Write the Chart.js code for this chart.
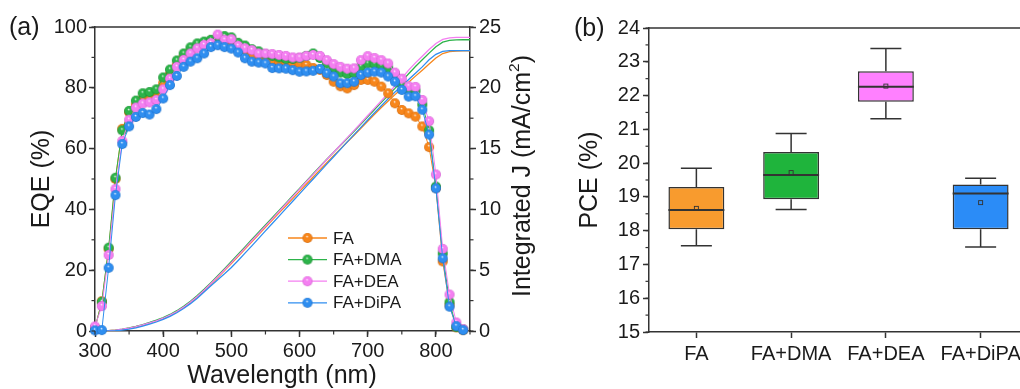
<!DOCTYPE html>
<html>
<head>
<meta charset="utf-8">
<script src="https://cdn.jsdelivr.net/npm/chart.js@4.4.1/dist/chart.umd.min.js"></script>
<style>
  html, body { margin: 0; padding: 0; background: #fff; width: 1020px; height: 389px; overflow: hidden; }
  #wrapA { position: absolute; left: 0; top: 0; }
  #wrapB { position: absolute; left: 560px; top: 0; }
</style>
</head>
<body>
<div id="wrapA"><canvas id="eqeChart" width="560" height="389"></canvas></div>
<div id="wrapB"><canvas id="pceChart" width="480" height="389"></canvas></div>
<script>
// ---- EQE spectra (%), one value every 10 nm ----
var eqeWavelength = [300, 310, 320, 330, 340, 350, 360, 370, 380, 390,
  400, 410, 420, 430, 440, 450, 460, 470, 480, 490,
  500, 510, 520, 530, 540, 550, 560, 570, 580, 590,
  600, 610, 620, 630, 640, 650, 660, 670, 680, 690,
  700, 710, 720, 730, 740, 750, 760, 770, 780, 790,
  800, 810, 820, 830, 840];

var eqeFA = [1.0, 9.8, 27.0, 50.0, 66.5, 72.0, 74.5, 76.5, 77.0, 78.0,
  81.5, 84.5, 87.5, 90.0, 92.0, 93.5, 94.5, 95.5, 96.0, 95.5,
  95.5, 93.5, 92.5, 91.5, 90.0, 89.2, 88.8, 88.6, 88.5, 88.3,
  88.0, 87.5, 86.5, 85.9, 84.2, 82.0, 80.5, 79.8, 80.9, 82.6,
  82.6, 82.0, 80.4, 78.2, 74.9, 72.7, 71.6, 70.5, 67.3, 60.5,
  47.0, 22.9, 8.5, 1.2, 0.3];

var eqeDMA = [1.0, 9.6, 27.4, 50.4, 66.0, 72.4, 75.8, 78.2, 78.6, 79.5,
  83.4, 86.0, 89.0, 91.3, 93.3, 94.6, 95.2, 95.8, 96.5, 97.0,
  96.6, 94.8, 93.9, 92.7, 92.0, 91.0, 90.5, 90.0, 89.5, 89.5,
  89.8, 90.5, 91.3, 89.8, 88.0, 86.5, 85.0, 84.5, 84.8, 87.0,
  88.0, 87.8, 87.2, 86.5, 84.5, 81.0, 79.0, 79.0, 74.5, 66.0,
  47.5, 25.5, 9.5, 1.3, 0.5];

var eqeDEA = [1.5, 8.2, 25.0, 46.7, 62.5, 69.5, 73.5, 74.8, 75.2, 76.0,
  79.5, 83.0, 86.9, 89.2, 91.3, 93.0, 94.1, 94.7, 97.5, 95.8,
  96.0, 93.8, 93.0, 92.4, 91.3, 91.3, 91.1, 90.8, 90.5, 90.0,
  90.0, 90.5, 90.8, 90.5, 89.1, 87.8, 86.9, 86.3, 86.4, 89.1,
  90.4, 89.8, 89.1, 88.0, 85.0, 83.0, 80.5, 80.3, 76.0, 69.0,
  51.5, 27.0, 12.0, 2.8, 0.6];

var eqeDiPA = [0.2, 0.3, 20.8, 44.7, 61.5, 67.3, 70.4, 71.7, 71.2, 73.0,
  76.5, 80.9, 83.9, 86.9, 88.6, 89.7, 91.3, 93.4, 94.0, 93.4,
  92.9, 91.6, 89.7, 88.6, 88.3, 88.0, 86.5, 86.4, 86.3, 85.8,
  85.3, 85.4, 85.6, 86.2, 84.8, 83.7, 81.5, 81.5, 82.0, 84.2,
  85.0, 85.3, 85.0, 83.7, 82.0, 79.3, 77.1, 77.2, 72.8, 64.6,
  46.9, 23.9, 8.0, 1.6, 0.3];

// ---- integrated current density (mA/cm2) ----
var jWavelength = [300, 310, 320, 330, 340, 350, 360, 370, 380, 390,
  400, 410, 420, 430, 440, 450, 460, 470, 480, 490,
  500, 510, 520, 530, 540, 550, 560, 570, 580, 590,
  600, 610, 620, 630, 640, 650, 660, 670, 680, 690,
  700, 710, 720, 730, 740, 750, 760, 770, 780, 790,
  800, 810, 820, 830, 840, 850];

var jFA = [0, 0.01, 0.03, 0.07, 0.14, 0.23, 0.35, 0.49, 0.65, 0.83,
  1.04, 1.29, 1.58, 1.93, 2.34, 2.8, 3.3, 3.84, 4.4, 4.97,
  5.55, 6.14, 6.74, 7.34, 7.94, 8.53, 9.12, 9.71, 10.3, 10.89,
  11.48, 12.07, 12.66, 13.25, 13.84, 14.42, 14.98, 15.54, 16.1, 16.67,
  17.25, 17.82, 18.38, 18.92, 19.44, 19.95, 20.46, 20.96, 21.45, 21.95,
  22.45, 22.82, 22.98, 23.02, 23.03, 23.03];

var jDMA = [0, 0.01, 0.03, 0.08, 0.16, 0.26, 0.38, 0.53, 0.7, 0.89,
  1.1, 1.36, 1.67, 2.03, 2.45, 2.92, 3.43, 3.98, 4.55, 5.13,
  5.72, 6.32, 6.92, 7.52, 8.12, 8.72, 9.32, 9.92, 10.52, 11.12,
  11.72, 12.32, 12.93, 13.53, 14.12, 14.7, 15.28, 15.85, 16.43, 17.02,
  17.62, 18.21, 18.8, 19.38, 19.95, 20.55, 21.15, 21.75, 22.3, 22.85,
  23.38, 23.75, 23.9, 23.94, 23.95, 23.95];

var jDEA = [0, 0.01, 0.03, 0.08, 0.15, 0.24, 0.36, 0.5, 0.66, 0.84,
  1.05, 1.3, 1.6, 1.96, 2.38, 2.84, 3.35, 3.9, 4.46, 5.04,
  5.62, 6.22, 6.82, 7.42, 8.02, 8.62, 9.22, 9.83, 10.44, 11.05,
  11.66, 12.27, 12.88, 13.49, 14.1, 14.7, 15.3, 15.9, 16.5, 17.1,
  17.72, 18.33, 18.94, 19.55, 20.15, 20.8, 21.45, 22.05, 22.6, 23.15,
  23.65, 23.98, 24.1, 24.14, 24.15, 24.15];

var jDiPA = [0, 0, 0, 0.02, 0.07, 0.15, 0.26, 0.4, 0.56, 0.74,
  0.95, 1.2, 1.5, 1.85, 2.25, 2.7, 3.2, 3.72, 4.22, 4.7,
  5.22, 5.8, 6.4, 7.0, 7.62, 8.23, 8.84, 9.45, 10.06, 10.67,
  11.28, 11.89, 12.5, 13.11, 13.72, 14.33, 14.94, 15.55, 16.15, 16.75,
  17.35, 17.95, 18.53, 19.1, 19.65, 20.15, 20.68, 21.2, 21.72, 22.3,
  22.75, 23.0, 23.05, 23.06, 23.06, 23.06];

var seriesNames = ['FA', 'FA+DMA', 'FA+DEA', 'FA+DiPA'];
var wavelengthTicks = [300, 400, 500, 600, 700, 800];

// ---- PCE statistics (%) ----
var pceGroups = ['FA', 'FA+DMA', 'FA+DEA', 'FA+DiPA'];
var pceMin    = [17.55, 18.63, 21.31, 17.52];
var pceQ1     = [18.04, 18.93, 21.82, 18.04];
var pceMedian = [18.61, 19.65, 22.26, 19.10];
var pceQ3     = [19.29, 20.33, 22.72, 19.37];
var pceMax    = [19.85, 20.88, 23.39, 19.55];
var pceMean   = [18.66, 19.72, 22.28, 18.83];

// colours
var lineColors = ['#f7861b', '#2db34a', '#f47ff1', '#2f8ef0'];
var darkColors = ['#cf6508', '#15892c', '#cf5ccc', '#186bc6'];
var boxColors  = ['#f89b2e', '#1fb43c', '#ff80ff', '#2b8cf7'];
var axisColor = '#333333';
var textColor = '#1a1a1a';
var fontFamily = "'Liberation Sans', Arial, sans-serif";

Chart.defaults.font.family = fontFamily;
Chart.defaults.color = textColor;

// shaded ball used as point marker
function makeBall(color, dark, r) {
  var c = document.createElement('canvas');
  var d = Math.ceil(r * 2 + 2);
  c.width = d; c.height = d;
  var g = c.getContext('2d');
  var cx = d / 2, cy = d / 2;
  var grad = g.createRadialGradient(cx - r * 0.1, cy - r * 0.35, 0, cx, cy, r);
  grad.addColorStop(0, '#ffffff');
  grad.addColorStop(0.28, color);
  grad.addColorStop(0.8, color);
  grad.addColorStop(1, dark);
  g.fillStyle = grad;
  g.beginPath(); g.arc(cx, cy, r, 0, Math.PI * 2); g.fill();
  return c;
}
var balls = lineColors.map(function (c, i) { return makeBall(c, darkColors[i], 5); });

function toPoints(xs, ys) {
  return xs.map(function (x, i) { return { x: x, y: ys[i] }; });
}

// text with optional superscript pieces, centred on (x, y)
function drawRich(ctx, parts, x, y, rot, size) {
  ctx.save();
  ctx.translate(x, y);
  ctx.rotate(rot);
  ctx.textBaseline = 'middle';
  ctx.textAlign = 'left';
  ctx.fillStyle = textColor;
  var total = 0;
  parts.forEach(function (p) {
    ctx.font = (p.sup ? size * 0.62 : size) + 'px ' + fontFamily;
    p.w = ctx.measureText(p.t).width;
    total += p.w;
  });
  var cx = -total / 2;
  parts.forEach(function (p) {
    ctx.font = (p.sup ? size * 0.62 : size) + 'px ' + fontFamily;
    ctx.fillText(p.t, cx, p.sup ? -size * 0.33 : 0);
    cx += p.w;
  });
  ctx.restore();
}

// frame, minor ticks, titles and legend
var panelDecor = {
  id: 'panelDecor',
  afterDraw: function (chart, args, o) {
    var ctx = chart.ctx, a = chart.chartArea;
    ctx.save();
    ctx.strokeStyle = axisColor;
    ctx.lineWidth = 1.5;
    ctx.beginPath();
    ctx.moveTo(a.left, a.top); ctx.lineTo(a.right, a.top);
    if (o.rightEdge) ctx.lineTo(a.right, a.bottom);
    ctx.stroke();

    ctx.lineWidth = 1.2;
    (o.minor || []).forEach(function (m) {
      var s = chart.scales[m.axis];
      for (var v = s.min; v <= s.max + 1e-9; v += m.step) {
        var p = s.getPixelForValue(v);
        ctx.beginPath();
        if (s.isHorizontal()) { ctx.moveTo(p, s.top); ctx.lineTo(p, s.top + 3.5); }
        else if (s.position === 'left') { ctx.moveTo(s.right, p); ctx.lineTo(s.right - 3.5, p); }
        else { ctx.moveTo(s.left, p); ctx.lineTo(s.left + 3.5, p); }
        ctx.stroke();
      }
    });

    (o.texts || []).forEach(function (t) {
      if (t.left) {
        ctx.font = t.size + 'px ' + fontFamily;
        ctx.fillStyle = textColor;
        ctx.textAlign = 'left';
        ctx.textBaseline = 'alphabetic';
        ctx.fillText(t.parts[0].t, t.x, t.y);
      } else {
        drawRich(ctx, t.parts, t.x, t.y, t.rot || 0, t.size);
      }
    });

    if (o.legend) {
      var L = o.legend;
      seriesNames.forEach(function (name, i) {
        var y = L.y + i * L.gap;
        ctx.strokeStyle = lineColors[i];
        ctx.lineWidth = 1.3;
        ctx.beginPath(); ctx.moveTo(L.x, y); ctx.lineTo(L.x + L.len, y); ctx.stroke();
        var b = balls[i];
        ctx.drawImage(b, L.x + L.len / 2 - b.width / 2, y - b.height / 2);
        ctx.font = L.size + 'px ' + fontFamily;
        ctx.fillStyle = textColor;
        ctx.textAlign = 'left';
        ctx.textBaseline = 'middle';
        ctx.fillText(name, L.x + L.len + 6, y + 1);
      });
    }
    ctx.restore();
  }
};

// whiskers, median and mean of each box
var boxWhiskers = {
  id: 'boxWhiskers',
  afterDatasetsDraw: function (chart) {
    var ctx = chart.ctx, ys = chart.scales.y;
    var bars = chart.getDatasetMeta(0).data;
    ctx.save();
    ctx.strokeStyle = axisColor;
    bars.forEach(function (bar, i) {
      var x = bar.x, half = bar.width / 2, cap = 15.5;
      var yMin = ys.getPixelForValue(pceMin[i]);
      var yQ1 = ys.getPixelForValue(pceQ1[i]);
      var yQ3 = ys.getPixelForValue(pceQ3[i]);
      var yMax = ys.getPixelForValue(pceMax[i]);
      var yMed = ys.getPixelForValue(pceMedian[i]);
      var yMean = ys.getPixelForValue(pceMean[i]);
      ctx.lineWidth = 1.5;
      ctx.beginPath();
      ctx.moveTo(x, yQ3); ctx.lineTo(x, yMax);
      ctx.moveTo(x - cap, yMax); ctx.lineTo(x + cap, yMax);
      ctx.moveTo(x, yQ1); ctx.lineTo(x, yMin);
      ctx.moveTo(x - cap, yMin); ctx.lineTo(x + cap, yMin);
      ctx.stroke();
      ctx.lineWidth = 2;
      ctx.beginPath();
      ctx.moveTo(x - half, yMed); ctx.lineTo(x + half, yMed);
      ctx.stroke();
      ctx.lineWidth = 0.9;
      ctx.strokeRect(x - 2, yMean - 2, 4, 4);
    });
    ctx.restore();
  }
};

var tickFont = { size: 20 };
function axisGrid() {
  return { drawOnChartArea: false, drawTicks: true, tickLength: 6, tickWidth: 1.5, tickColor: axisColor };
}
var axisBorder = { display: true, color: axisColor, width: 1.5 };

// ---------- (a) EQE + integrated J ----------
var eqeSets = [eqeFA, eqeDMA, eqeDEA, eqeDiPA];
var jSets = [jFA, jDMA, jDEA, jDiPA];
var datasets = [];
eqeSets.forEach(function (vals, i) {
  datasets.push({
    label: seriesNames[i],
    data: toPoints(eqeWavelength, vals),
    yAxisID: 'y',
    borderColor: lineColors[i],
    borderWidth: 1,
    pointStyle: balls[i],
    pointRadius: 5,
    tension: 0,
    clip: false,
    order: 4 - i
  });
});
jSets.forEach(function (vals, i) {
  datasets.push({
    label: seriesNames[i] + ' J',
    data: toPoints(jWavelength, vals),
    yAxisID: 'y2',
    borderColor: lineColors[i],
    borderWidth: 1.3,
    pointRadius: 0,
    tension: 0,
    order: 8 - i
  });
});

new Chart(document.getElementById('eqeChart'), {
  type: 'line',
  data: { datasets: datasets },
  options: {
    responsive: false,
    animation: false,
    events: [],
    layout: { padding: { top: 27, left: 0, right: 0, bottom: 0 } },
    plugins: {
      legend: { display: false },
      tooltip: { enabled: false },
      panelDecor: {
        minor: [{ axis: 'x', step: 50 }, { axis: 'y', step: 10 }, { axis: 'y2', step: 2.5 }],
        texts: [
          { parts: [{ t: '(a)' }], x: 9, y: 35, size: 25, left: true },
          { parts: [{ t: 'EQE (%)' }], x: 42, y: 179, rot: -Math.PI / 2, size: 25 },
          { parts: [{ t: 'Wavelength (nm)' }], x: 282, y: 376, size: 25 },
          { parts: [{ t: 'Integrated J (mA/cm' }, { t: '2', sup: true }, { t: ')' }], x: 523, y: 176, rot: -Math.PI / 2, size: 25 }
        ],
        legend: { x: 288, y: 238, gap: 21.6, len: 39, size: 17 }
      }
    },
    scales: {
      x: {
        type: 'linear', min: 300, max: 850,
        ticks: { font: tickFont, padding: 2, maxRotation: 0, autoSkip: false },
        grid: axisGrid(), border: axisBorder,
        afterBuildTicks: function (s) {
          s.ticks = wavelengthTicks.map(function (v) { return { value: v }; });
        },
        afterFit: function (s) { s.height = 58; }
      },
      y: {
        position: 'left', min: 0, max: 100,
        ticks: { stepSize: 20, font: tickFont, padding: 2 },
        grid: axisGrid(), border: axisBorder,
        afterFit: function (s) { s.width = 95; }
      },
      y2: {
        position: 'right', min: 0, max: 25,
        ticks: { stepSize: 5, font: tickFont, padding: 3 },
        grid: axisGrid(), border: axisBorder,
        afterFit: function (s) { s.width = 90; }
      }
    }
  },
  plugins: [panelDecor]
});

// ---------- (b) PCE box chart ----------
new Chart(document.getElementById('pceChart'), {
  type: 'bar',
  data: {
    labels: pceGroups,
    datasets: [{
      data: pceGroups.map(function (g, i) { return [pceQ1[i], pceQ3[i]]; }),
      backgroundColor: boxColors,
      borderColor: axisColor,
      borderWidth: 1.5,
      borderSkipped: false,
      barPercentage: 0.59,
      categoryPercentage: 1
    }]
  },
  options: {
    responsive: false,
    animation: false,
    events: [],
    layout: { padding: { top: 28, left: 0, right: 12, bottom: 0 } },
    plugins: {
      legend: { display: false },
      tooltip: { enabled: false },
      panelDecor: {
        rightEdge: true,
        minor: [{ axis: 'y', step: 0.5 }],
        texts: [
          { parts: [{ t: '(b)' }], x: 14, y: 36, size: 25, left: true },
          { parts: [{ t: 'PCE (%)' }], x: 30, y: 180, rot: -Math.PI / 2, size: 25 }
        ]
      }
    },
    scales: {
      x: {
        ticks: { font: tickFont, padding: 4, maxRotation: 0, autoSkip: false },
        grid: Object.assign(axisGrid(), { offset: false }),
        border: axisBorder,
        afterFit: function (s) { s.height = 57; }
      },
      y: {
        min: 15, max: 24,
        ticks: { stepSize: 1, font: tickFont, padding: 3 },
        grid: axisGrid(), border: axisBorder,
        afterFit: function (s) { s.width = 89; }
      }
    }
  },
  plugins: [boxWhiskers, panelDecor]
});
</script>
</body>
</html>
